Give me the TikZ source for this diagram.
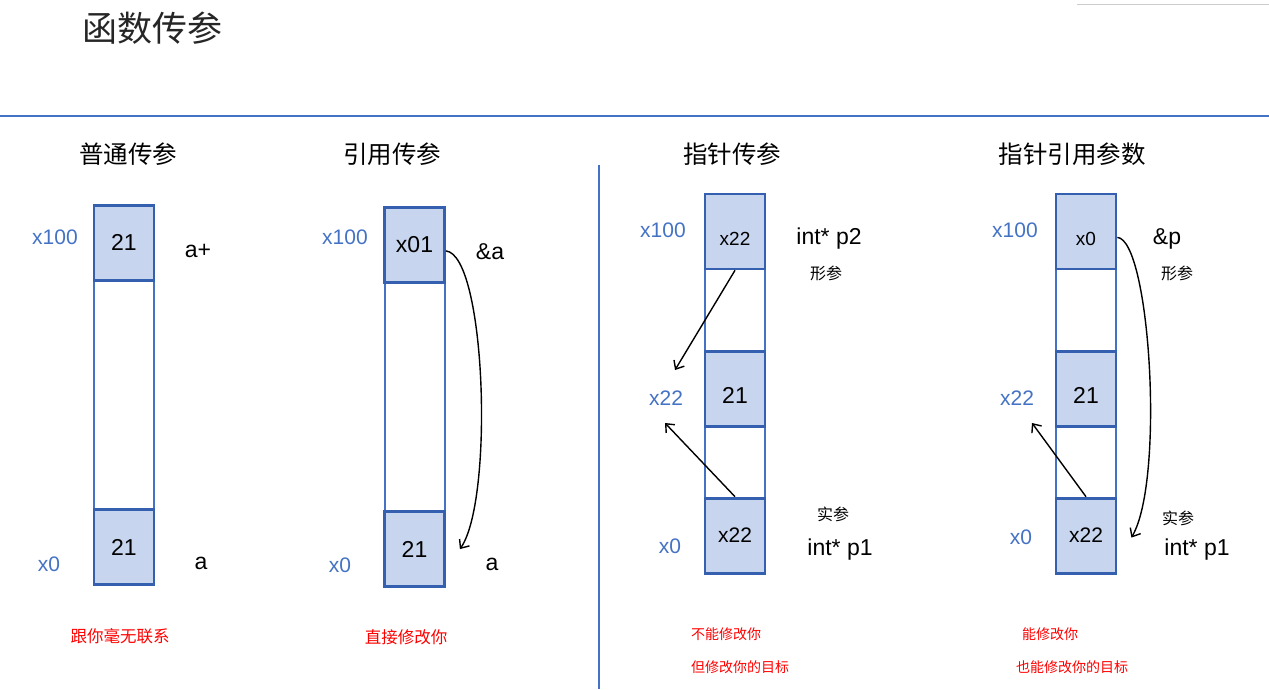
\documentclass[tikz,border=0pt]{standalone}
\usepackage{fontspec}
\setmainfont{Liberation Sans}
\newfontfamily\cjk{Noto Sans CJK SC}
\usetikzlibrary{arrows.meta,positioning}
\definecolor{mblue}{HTML}{4472C4}
\definecolor{mfill}{HTML}{C7D5EE}
\definecolor{medge}{HTML}{3560B0}
\tikzset{
  column/.style  = {draw=mblue, line width=2pt, minimum width=60pt,
                    minimum height=380pt, inner sep=0pt},
  cell/.style    = {draw=medge, line width=2.8pt, fill=mfill, minimum width=60pt,
                    minimum height=75pt, inner sep=0pt, font=\fontsize{23}{23}\selectfont},
  lowtext/.style = {text height=28pt},
  addr/.style    = {text=mblue, font=\fontsize{21}{21}\selectfont},
  varname/.style = {font=\fontsize{23}{23}\selectfont},
  head/.style    = {font=\cjk\fontsize{24.5}{24.5}\selectfont},
  tag/.style     = {font=\cjk\fontsize{16}{16}\selectfont},
  note/.style    = {text=red, font=\cjk\fontsize{16.5}{16.5}\selectfont},
  small note/.style = {note, font=\cjk\fontsize{14}{14}\selectfont},
  ptr/.style     = {-{Straight Barb[length=7pt,width=12pt]}, line width=1.4pt},
}

\begin{document}
\begin{tikzpicture}[x=1pt,y=-1pt]
\useasboundingbox (0,0) rectangle (1269,689);
\draw[black!20, line width=1pt] (1077,4) -- (1269,4);
\node[font=\cjk\fontsize{35}{35}\selectfont, text=black!85] (title) at (152,28) {函数传参};
\draw[mblue, line width=2pt] (0,116) -- (1269,116);
\draw[mblue, line width=1.6pt] (599,165) -- (599,689);
% column 1: plain value
\node[head] (h1) at (128,154) {普通传参};
\node[column] (col1) at (124,395) {};
\node[cell, anchor=north] (c1a) at (col1.north) {21};
\node[cell, anchor=south] (c1b) at (col1.south) {21};
\node[addr] (a1a) at (55,237) {x100};
\node[addr] (a1b) at (49,564) {x0};
\node[varname] (v1a) at (198,251) {a+};
\node[varname] (v1b) at (201,563) {a};
\node[note] (n1) at (120,636) {跟你毫无联系};
% column 2: reference
\node[head] (h2) at (392,154) {引用传参};
\node[column] (col2) at (414.5,397) {};
\node[cell, anchor=north] (c2a) at (col2.north) {x01};
\node[cell, anchor=south] (c2b) at (col2.south) {21};
\node[addr] (a2a) at (345,237) {x100};
\node[addr] (a2b) at (340,565) {x0};
\node[varname] (v2a) at (490,252) {\&a};
\node[varname] (v2b) at (492,564) {a};
\node[note] (n2) at (406,637) {直接修改你};
\draw[ptr] ([yshift=-6pt]c2a.east) .. controls (486,255) and (494,500) .. ([xshift=14pt]c2b.east);
% column 3: pointer
\node[head] (h3) at (732,154) {指针传参};
\node[column] (col3) at (735,383.5) {};
\node[cell, lowtext, anchor=north, font=\fontsize{19}{19}\selectfont] (c3a) at (col3.north) {x22};
\node[cell, lowtext] (c3m) at (735,389) {21};
\node[cell, anchor=south, font=\fontsize{21}{21}\selectfont] (c3b) at (col3.south) {x22};
\node[addr] (a3a) at (663,230) {x100};
\node[addr] (a3m) at (666,398) {x22};
\node[addr] (a3b) at (670,546) {x0};
\node[varname] (v3a) at (829,239) {int* p2};
\node[tag] (t3a) at (826,273) {形参};
\node[tag] (t3b) at (833,514) {实参};
\node[varname] (v3b) at (840,550) {int* p1};
\node[small note] (n3a) at (726,634) {不能修改你};
\node[small note] (n3b) at (740,667) {但修改你的目标};
\coordinate (p3up) at (675,370);
\coordinate (p3dn) at (665,423);
\draw[ptr] (c3a.south) -- (p3up);
\draw[ptr] (c3b.north) -- (p3dn);
% column 4: pointer reference
\node[head] (h4) at (1072,154) {指针引用参数};
\node[column] (col4) at (1086,383.5) {};
\node[cell, lowtext, anchor=north, font=\fontsize{19}{19}\selectfont] (c4a) at (col4.north) {x0};
\node[cell, lowtext] (c4m) at (1086,389) {21};
\node[cell, anchor=south, font=\fontsize{21}{21}\selectfont] (c4b) at (col4.south) {x22};
\node[addr] (a4a) at (1015,230) {x100};
\node[addr] (a4m) at (1017,398) {x22};
\node[addr] (a4b) at (1021,537) {x0};
\node[varname] (v4a) at (1167,239) {\&p};
\node[tag] (t4a) at (1177,273) {形参};
\node[tag] (t4b) at (1178,518) {实参};
\node[varname] (v4b) at (1197,550) {int* p1};
\node[small note] (n4a) at (1050,634) {能修改你};
\node[small note] (n4b) at (1072,667) {也能修改你的目标};
\coordinate (p4dn) at (1032,423);
\draw[ptr] (c4b.north) -- (p4dn);
\draw[ptr] ([yshift=-6pt]c4a.east) .. controls (1150,240) and (1165,480) .. ([xshift=14pt,yshift=-2pt]c4b.east);
\end{tikzpicture}
\end{document}
